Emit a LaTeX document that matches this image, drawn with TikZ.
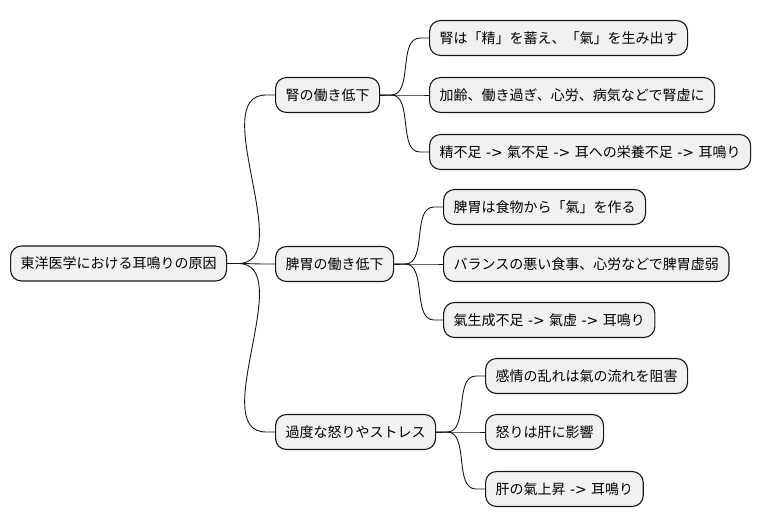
\documentclass[tikz,border=0pt]{standalone}
\usepackage{fontspec}
\setmainfont{Noto Sans CJK JP}
\newfontfamily\latinfont{DejaVu Sans}
\usetikzlibrary{calc}

\definecolor{boxfill}{HTML}{F1F1F1}
\definecolor{boxline}{HTML}{181818}

\tikzset{
  topic/.style={draw=boxline,fill=boxfill,line width=1.1pt,rounded corners=11pt,
    minimum height=35pt,inner xsep=10pt,anchor=west,
    font=\fontsize{14}{16}\selectfont},
  branch/.style={draw=boxline,line width=0.9pt},
}

% the " -> " between steps is set in the latin face
\newcommand{\arr}{{\latinfont\ ->\ }}

% parent -> child: short stub, S-curve, short stub
\newcommand{\twig}[2]{%
  \draw[branch] (#1.east) -- ++(11,0) to[out=0,in=180,looseness=0.9]
    ($(#2.west)+(-9,0)$) -- (#2.west);}

\begin{document}
\begin{tikzpicture}[x=1pt,y=-1pt]
\useasboundingbox (0,0) rectangle (762,527);

% root
\node[topic] (root) at (10,263.5) {東洋医学における耳鳴りの原因};

% first level
\node[topic] (kid) at (275,95) {腎の働き低下};
\node[topic] (spl) at (275,264) {脾胃の働き低下};
\node[topic] (str) at (275,432) {過度な怒りやストレス};

% kidney
\node[topic] (kid1) at (429,38) {腎は「精」を蓄え、「氣」を生み出す};
\node[topic] (kid2) at (429,95) {加齢、働き過ぎ、心労、病気などで腎虚に};
\node[topic] (kid3) at (429,152) {精不足\arr 氣不足\arr 耳への栄養不足\arr 耳鳴り};

% spleen and stomach
\node[topic] (spl1) at (443,207) {脾胃は食物から「氣」を作る};
\node[topic] (spl2) at (443,264) {バランスの悪い食事、心労などで脾胃虚弱};
\node[topic] (spl3) at (443,320) {氣生成不足\arr 氣虚\arr 耳鳴り};

% anger and stress
\node[topic] (str1) at (485,376) {感情の乱れは氣の流れを阻害};
\node[topic] (str2) at (485,432) {怒りは肝に影響};
\node[topic] (str3) at (485,489) {肝の氣上昇\arr 耳鳴り};

\foreach \c in {kid,spl,str} {\twig{root}{\c}}
\foreach \c in {kid1,kid2,kid3} {\twig{kid}{\c}}
\foreach \c in {spl1,spl2,spl3} {\twig{spl}{\c}}
\foreach \c in {str1,str2,str3} {\twig{str}{\c}}
\end{tikzpicture}
\end{document}
